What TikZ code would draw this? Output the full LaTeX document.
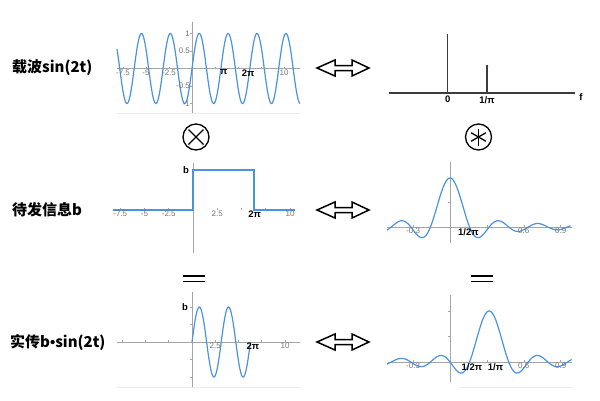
\documentclass[tikz,border=0pt]{standalone}
\usepackage{fontspec}
\setmainfont{Liberation Sans}
\newfontfamily\cjk{Noto Sans CJK SC}
\newfontfamily\latinbold{Liberation Sans}
\definecolor{sigblue}{RGB}{74,146,226}
\definecolor{axisgray}{RGB}{165,165,165}
\definecolor{tickgray}{RGB}{118,118,118}
\definecolor{spikegray}{RGB}{60,60,60}
\tikzset{
  curve/.style={sigblue, line width=1.2pt, line join=round},
  axis/.style={axisgray, line width=0.9pt},
  faint/.style={black!7, line width=0.8pt},
  tickmark/.style={axisgray, line width=0.6pt},
  ticklab/.style={text=tickgray, font=\fontsize{8}{9}\selectfont, inner sep=1pt, anchor=north},
  keylab/.style={font=\bfseries\fontsize{9.5}{10}\selectfont, inner sep=1pt},
  rowlab/.style={font=\cjk\bfseries\fontsize{15}{16}\selectfont, anchor=west, inner sep=0pt},
  spike/.style={spikegray, line width=1.3pt},
  opsign/.style={line width=1.3pt},
  dblarrow/.style={line width=1.5pt, fill=white, line join=miter},
}

\begin{document}
\begin{tikzpicture}[x=1pt, y=-1pt]
    \useasboundingbox (0,0) rectangle (600,400);

    % Row titles
    \node[rowlab] (carrier) at (12,68) {载波sin(2t)};
    \node[rowlab] (message) at (12,210) {待发信息b};
    \node[rowlab] (sent) at (10,342) {实传b{\latinbold\bfseries •}sin(2t)};

    % Carrier sin(2t) in time
    \begin{scope}[shift={(192,68.5)}, x=9.2pt, y=35pt]
        \draw[faint] (-8.15,-1.27) -- (11.75,-1.27);
        \draw[axis] (-8.15,0) -- (11.75,0);
        \draw[axis] (0,1.33) -- (0,-1.27);
        \foreach \t in {-7.5,-5,-2.5,2.5,5,7.5,10} \draw[tickmark] (\t,0) -- +(0pt,2pt);
        \foreach \v in {-1,-0.5,0.5,1} \draw[tickmark] (0,\v) -- +(-2pt,0pt);
        \draw[curve] plot[domain=-8.15:11.75, samples=400, smooth] (\x,{sin(2*\x r)});
        \foreach \t/\l [count=\i] in {-7.5/-7.5, -5/-5, -2.5/-2.5, 10/10}
            \node[ticklab] (ca\i) at (\t,0) {\l};
        \foreach \v/\l [count=\i] in {1/1, 0.5/0.5, -0.5/-0.5, -1/-1}
            \node[ticklab, anchor=east] (cy\i) at (-0.1,\v) {\l};
        \node[keylab, anchor=north] (cpi) at (3.45,0) {π};
        \node[keylab, anchor=north] (c2pi) at (6.1,0) {2π};
    \end{scope}

    % Carrier spectrum
    \coordinate (fl) at (389,93);
    \coordinate (fr) at (574,93);
    \coordinate (f0) at (447.7,93);
    \coordinate (f0top) at (447.7,34);
    \coordinate (f1) at (487,93);
    \coordinate (f1top) at (487,66);
    \draw[spike] (fl) -- (fr);
    \draw[spike] (f0) -- (f0top);
    \draw[spike] (f1) -- (f1top);
    \foreach \p in {fr, f1top} \fill[spikegray] (\p) circle (1.3);
    \node[keylab, anchor=north] (lzero) at ([yshift=-2pt]f0) {0};
    \node[keylab, anchor=north] (lpi) at ([yshift=-2pt]f1) {1/π};
    \node[keylab] (lf) at (581,97) {f};

    % Multiplication and convolution signs
    \begin{scope}[shift={(196,137)}]
        \draw[opsign] (0,0) circle (13);
        \draw[opsign] (-7.5,-7.5) -- (7.5,7.5) (-7.5,7.5) -- (7.5,-7.5);
    \end{scope}
    \begin{scope}[shift={(478.5,137)}]
        \draw[opsign] (0,0) circle (13);
        \foreach \a in {30,90,150} \draw[opsign] (\a:8.5) -- (\a+180:8.5);
    \end{scope}

    % Equals signs
    \foreach \cx in {194,482}
        \draw[opsign] (\cx-11,276) -- (\cx+11,276) (\cx-11,281.5) -- (\cx+11,281.5);

    % Fourier pair arrows
    \foreach \y in {68,210,342} {
        \begin{scope}[shift={(317,\y)}]
            \draw[dblarrow] (0,0) -- (18,-8) -- (18,-2.5) -- (35,-2.5) -- (35,-8) -- (52,0)
                -- (35,8) -- (35,2.5) -- (18,2.5) -- (18,8) -- cycle;
        \end{scope}
    }

    % Message b in time
    \begin{scope}
        \clip (100,150) rectangle (295,260);
        \begin{scope}[shift={(193,210)}, x=9.7pt, y=40pt]
            \draw[axis] (0,1.18) -- (0,-1.08);
            \foreach \t in {-7.5,-5,-2.5,2.5,5,7.5,10} \draw[tickmark] (\t,0) -- +(0pt,2pt);
            \draw[curve, line width=1.8pt, line join=miter] (-8.25,0) -- (0,0) -- (0,1) -- (6.2832,1) -- (6.2832,0) -- (10.5,0);
            \foreach \t/\l [count=\i] in {-7.5/-7.5, -5/-5, -2.5/-2.5, 2.5/2.5, 10/10}
                \node[ticklab] (ma\i) at (\t,0) {\l};
            \node[keylab, anchor=north] (m2pi) at (6.35,0) {2π};
            \node[keylab, anchor=east] (mb) at (-0.3,1) {b};
        \end{scope}
    \end{scope}

    % Message spectrum
    \begin{scope}[shift={(450,227)}, x=123pt, y=49pt]
        \draw[axis] (-0.513,0) -- (0.99,0);
        \draw[axis] (0,1.33) -- (0,-0.33);
        \foreach \v in {0.5,1} \draw[tickmark] (0,\v) -- +(-2pt,0pt);
        \foreach \t in {-0.3,0.3,0.6,0.9} \draw[tickmark] (\t,0) -- +(0pt,2pt);
        \draw[curve] plot[domain=-0.513:0.981, samples=201, smooth] (\x,{sin(19.74*\x r)/(19.74*\x)});
        \foreach \t/\l [count=\i] in {-0.3/-0.3, 0.6/0.6, 0.9/0.9}
            \node[ticklab] (sa\i) at (\t,0) {\l};
        \node[keylab, anchor=north] (shalf) at (0.15,0) {1/2π};
    \end{scope}

    % Sent signal b sin(2t) in time
    \begin{scope}[shift={(192,342)}, x=9.3pt, y=35pt]
        \draw[faint] (-8.05,-1.29) -- (11.6,-1.29);
        \draw[axis] (-8.05,0) -- (11.6,0);
        \draw[axis] (0,1.43) -- (0,-1.29);
        \foreach \t in {-7.5,-5,-2.5,2.5,5,7.5,10} \draw[tickmark] (\t,0) -- +(0pt,2pt);
        \foreach \v in {-1,-0.5,0.5,1} \draw[tickmark] (0,\v) -- +(-2pt,0pt);
        \draw[curve] plot[domain=0:6.2832, samples=150, smooth] (\x,{sin(2*\x r)});
        \foreach \t/\l [count=\i] in {2.5/2.5, 10/10}
            \node[ticklab] (ta\i) at (\t,0) {\l};
        \node[keylab, anchor=north] (t2pi) at (6.55,0) {2π};
        \node[keylab, anchor=east] (tb) at (-0.3,1) {b};
    \end{scope}

    % Sent signal spectrum
    \begin{scope}[shift={(450,362)}, x=123pt, y=51pt]
        \draw[faint] (0.08,-0.49) -- (0.99,-0.49);
        \draw[axis] (-0.504,0) -- (0.99,0);
        \draw[axis] (0,1.31) -- (0,-0.39);
        \foreach \v in {0.5,1} \draw[tickmark] (0,\v) -- +(-2pt,0pt);
        \foreach \t in {-0.3,0.3,0.6,0.9} \draw[tickmark] (\t,0) -- +(0pt,2pt);
        \draw[curve] plot[domain=-0.512:0.991, samples=201, smooth] (\x,{sin(19.74*(\x-0.3183) r)/(19.74*(\x-0.3183))});
        \foreach \t/\l [count=\i] in {-0.3/-0.3, 0.6/0.6, 0.9/0.9}
            \node[ticklab] (ua\i) at (\t,0) {\l};
        \node[keylab, anchor=north] (uhalf) at (0.178,0) {1/2π};
        \node[keylab, anchor=north] (upi) at (0.37,0) {1/π};
    \end{scope}

\end{tikzpicture}
\end{document}
